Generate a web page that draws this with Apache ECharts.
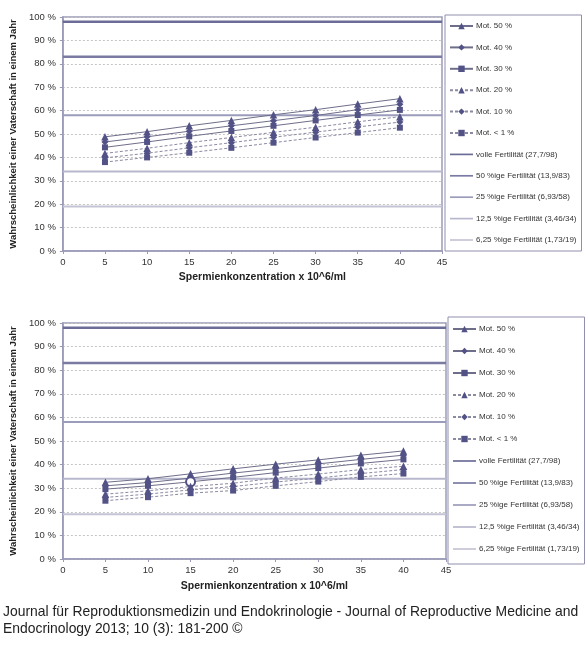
<!DOCTYPE html>
<html><head><meta charset="utf-8">
<script src="https://cdn.jsdelivr.net/npm/echarts@6/dist/echarts.min.js"></script>
<style>html,body{margin:0;padding:0;background:#fff}#c{width:588px;height:661px}</style>
</head><body><div id="c"></div>
<script>
const xValues = [5, 10, 15, 20, 25, 30, 35, 40];
const motNames = ['Mot. 50 %', 'Mot. 40 %', 'Mot. 30 %', 'Mot. 20 %', 'Mot. 10 %', 'Mot. < 1 %'];
// top chart
const topMot50 = [48.8, 51.0, 53.5, 55.8, 58.2, 60.4, 62.8, 65.1];
const topMot40 = [46.6, 48.8, 51.2, 53.5, 55.7, 57.9, 60.4, 62.7];
const topMot30 = [44.3, 46.6, 49.0, 51.3, 53.5, 55.8, 58.1, 60.3];
const topMot20 = [41.7, 43.9, 46.3, 48.5, 50.7, 52.9, 55.2, 57.4];
const topMot10 = [39.8, 41.8, 44.1, 46.3, 48.6, 50.8, 53.0, 55.1];
const topMot1  = [38.0, 40.0, 42.0, 44.1, 46.3, 48.5, 50.6, 52.7];
// bottom chart
const botMot50 = [32.5, 34.0, 36.1, 38.2, 40.2, 42.0, 44.0, 45.8];
const botMot40 = [31.0, 32.4, 34.3, 36.4, 38.3, 40.3, 42.2, 44.0];
const botMot30 = [29.6, 31.0, 32.7, 34.6, 36.6, 38.5, 40.5, 42.2];
const botMot20 = [27.5, 28.9, 30.7, 32.1, 34.3, 36.0, 37.9, 39.3];
const botMot10 = [26.1, 27.5, 29.3, 30.7, 32.6, 34.3, 36.2, 37.9];
const botMot1  = [24.7, 26.2, 27.9, 29.0, 31.0, 32.8, 34.8, 36.2];
const highlightX = 15; // open circle on bottom Mot. 30 %
// reference fertility levels
const refNames = ['volle Fertilität (27,7/98)', '50 %ige Fertilität (13,9/83)', '25 %ige Fertilität (6,93/58)', '12,5 %ige Fertilität (3,46/34)', '6,25 %ige Fertilität (1,73/19)'];
const refValues = [98, 83, 58, 34, 19];
const xRange = [0, 45];
const yTicks = [0, 10, 20, 30, 40, 50, 60, 70, 80, 90, 100];
const captionLines = ['Journal für Reproduktionsmedizin und Endokrinologie - Journal of Reproductive Medicine and', 'Endocrinology 2013; 10 (3): 181-200 ©'];

const FONT = '"Liberation Sans", Arial, sans-serif';
const markColor = '#525287';
const symbols = ['triangle', 'diamond', 'rect', 'triangle', 'diamond', 'rect'];
const symSizes = [7.5, 7, 6, 7.5, 7, 6];
const refColors = ['#6c6c98', '#7a7aa3', '#9b9bbb', '#b7b7cd', '#c4c4d6'];
const refWidths = [2.5, 2.5, 2, 2, 2];
const axisCol = '#9a9ab8';

const chart = echarts.init(document.getElementById('c'), null, {renderer: 'canvas'});

function motSeries(arrs, gi, hl) {
  return arrs.map((arr, i) => ({
    name: motNames[i], type: 'line', xAxisIndex: gi, yAxisIndex: gi,
    symbol: symbols[i], symbolSize: symSizes[i],
    itemStyle: {color: markColor},
    lineStyle: {color: i < 3 ? '#6e6e8a' : '#8a8aa2', width: 1, type: i < 3 ? 'solid' : [3, 2]},
    data: xValues.map((x, k) => {
      if (hl && i === 2 && x === highlightX) {
        return {value: [x, arr[k]], symbol: 'circle', symbolSize: 9,
          itemStyle: {color: '#ffffff', borderColor: markColor, borderWidth: 2}};
      }
      return [x, arr[k]];
    }),
    z: 5, animation: false
  }));
}
function refSeries(gi) {
  return refValues.map((v, i) => ({
    name: refNames[i], type: 'line', xAxisIndex: gi, yAxisIndex: gi,
    symbol: 'none', showSymbol: false,
    itemStyle: {color: refColors[i]},
    lineStyle: {color: refColors[i], width: refWidths[i]},
    data: [[xRange[0], v], [xRange[1], v]], z: 3, animation: false
  }));
}

const lineIcon = 'path://M0,0 L30,0 L30,2.2 L0,2.2 Z';
const legendData = motNames.map(n => ({name: n})).concat(refNames.map(n => ({name: n, icon: lineIcon})));
function legend(top, left, gap, pad) {
  return {
    orient: 'vertical', left: left, top: top, itemWidth: 23, itemHeight: 8,
    itemGap: gap, padding: pad, borderColor: '#8f8fae', borderWidth: 1,
    textStyle: {fontFamily: FONT, fontSize: 8, color: '#333', lineHeight: 12, padding: [0, 0, 0, -2]},
    data: legendData, selectedMode: false
  };
}
function xAx(gi, gap) {
  return {
    type: 'value', gridIndex: gi, min: xRange[0], max: xRange[1], interval: 5,
    name: 'Spermienkonzentration x 10^6/ml', nameLocation: 'middle', nameGap: gap,
    nameTextStyle: {fontFamily: FONT, fontWeight: 'bold', fontSize: 10.5, color: '#222', padding: [0, 0, 0, 20]},
    axisLine: {lineStyle: {color: axisCol, width: 1.5}}, axisTick: {show: true, lineStyle: {color: axisCol}, length: 3},
    axisLabel: {fontFamily: FONT, fontSize: 9.5, color: '#333', margin: 6},
    splitLine: {show: false}
  };
}
function yAx(gi) {
  return {
    type: 'value', gridIndex: gi, min: yTicks[0], max: yTicks[yTicks.length - 1], interval: 10,
    name: 'Wahrscheinlichkeit einer Vaterschaft in einem Jahr', nameLocation: 'middle', nameGap: 39,
    nameTextStyle: {fontFamily: FONT, fontWeight: 'bold', fontSize: 9.5, color: '#222'},
    axisLine: {lineStyle: {color: axisCol, width: 1.5}}, axisTick: {show: true, lineStyle: {color: axisCol}, length: 3},
    axisLabel: {fontFamily: FONT, fontSize: 9.5, color: '#333', margin: 7, formatter: '{value} %'},
    splitLine: {show: true, lineStyle: {color: '#c4c4c4', type: [2, 2], width: 1}}
  };
}

chart.setOption({
  animation: false,
  backgroundColor: '#ffffff',
  grid: [
    {left: 60, top: 17, width: 382, height: 234, show: true, borderColor: axisCol, borderWidth: 1.5, backgroundColor: 'transparent'},
    {left: 59, top: 323, width: 387, height: 236, show: true, borderColor: axisCol, borderWidth: 1.5, backgroundColor: 'transparent'}
  ],
  xAxis: [xAx(0, 21), xAx(1, 22)],
  yAxis: [yAx(0), yAx(1)],
  legend: [legend(15, 445, 9.4, [5, 5, 5, 4]), legend(317, 448, 10, [6, 5, 9, 4])],
  series: [].concat(
    refSeries(0),
    motSeries([topMot50, topMot40, topMot30, topMot20, topMot10, topMot1], 0, false),
    refSeries(1),
    motSeries([botMot50, botMot40, botMot30, botMot20, botMot10, botMot1], 1, true)
  ),
  graphic: captionLines.map((t, i) => ({
    type: 'text', left: 3, top: 605 + i * 17,
    style: {text: t, fontFamily: FONT, fontSize: 13.9, fill: '#222'}
  }))
});
</script>
</body></html>
